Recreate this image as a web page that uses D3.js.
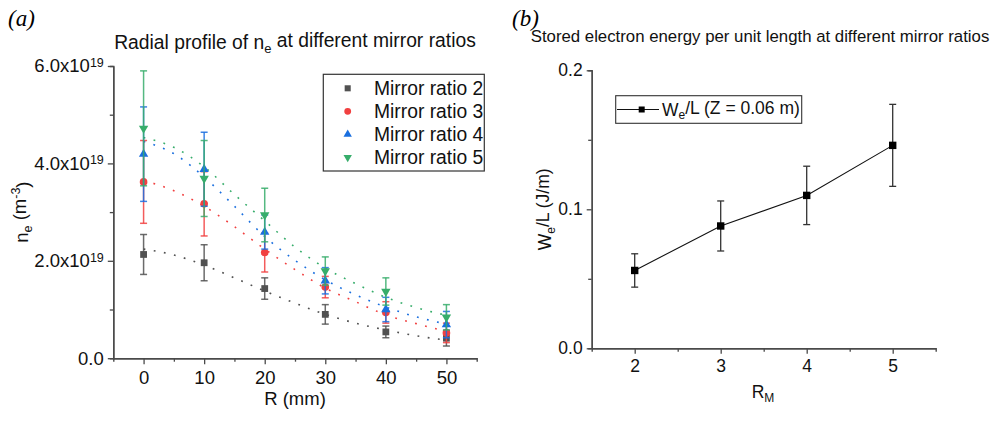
<!DOCTYPE html>
<html>
<head>
<meta charset="utf-8">
<script src="https://cdn.jsdelivr.net/npm/d3@7"></script>
<style>
  body { margin: 0; background: #fff; }
  svg { display: block; font-family: "Liberation Sans", Arial, sans-serif; }
</style>
</head>
<body>
<div id="chart"></div>
<script>
// ---- panel (a) data : n_e in units of 1e19 m^-3 ----
const radius = [0, 10, 20, 30, 40, 50];
const seriesNames = ["Mirror ratio 2", "Mirror ratio 3", "Mirror ratio 4", "Mirror ratio 5"];
const ne_mr2 = [2.13, 1.96, 1.43, 0.90, 0.54, 0.41];
const ne_mr3 = [3.62, 3.17, 2.17, 1.46, 0.94, 0.52];
const ne_mr4 = [4.19, 3.88, 2.59, 1.59, 1.00, 0.69];
const ne_mr5 = [4.72, 3.69, 2.94, 1.79, 1.37, 0.84];
const err_mr2 = [0.41, 0.37, 0.22, 0.20, 0.12, 0.16];
const err_mr3 = [0.85, 0.66, 0.40, 0.22, 0.22, 0.20];
const err_mr4 = [0.97, 0.76, 0.35, 0.27, 0.25, 0.27];
const err_mr5 = [1.18, 0.78, 0.55, 0.29, 0.28, 0.26];
// dotted fit curves
const fitRadius = [0, 5, 10, 15, 20, 25, 30, 35, 40, 45, 50];
const fit_mr2 = [2.24, 2.12, 1.91, 1.65, 1.38, 1.13, 0.90, 0.72, 0.58, 0.46, 0.37];
const fit_mr3 = [3.65, 3.44, 3.12, 2.70, 2.24, 1.82, 1.44, 1.16, 0.89, 0.71, 0.55];
const fit_mr4 = [4.45, 4.20, 3.72, 3.12, 2.50, 2.01, 1.61, 1.30, 1.05, 0.85, 0.70];
const fit_mr5 = [4.53, 4.33, 3.93, 3.36, 2.82, 2.28, 1.85, 1.53, 1.25, 1.04, 0.88];
const neTicks = [0, 2, 4, 6];

// ---- panel (b) data ----
const mirrorRatio = [2, 3, 4, 5];
const weL = [0.056, 0.088, 0.110, 0.146];
const weLErr = [0.012, 0.018, 0.021, 0.0295];
const weTicks = [0, 0.1, 0.2];

const colors = ["#515151", "#F14040", "#1A6FDF", "#37AD6B"];
const symbols = [d3.symbolSquare, d3.symbolCircle, d3.symbolTriangle, d3.symbolTriangle];
const symSizes = [46, 46, 38, 38];
const symRot = [0, 0, 0, 180];

const W = 1003, H = 421;
const axisCol = "#4a4a4a";

const svg = d3.select("#chart").append("svg")
    .attr("width", W)
    .attr("height", H);

// panel letters
svg.append("text").attr("x", 8).attr("y", 26)
    .style("font-family", "'Liberation Serif', 'DejaVu Serif', serif")
    .style("font-style", "italic").style("font-size", "23px").text("(a)");
svg.append("text").attr("x", 512).attr("y", 26)
    .style("font-family", "'Liberation Serif', 'DejaVu Serif', serif")
    .style("font-style", "italic").style("font-size", "23px").text("(b)");

function styleAxis(g) {
    g.select(".domain").attr("stroke", axisCol).attr("stroke-width", 1.4);
    g.selectAll(".tick line").attr("stroke", axisCol).attr("stroke-width", 1.3);
    g.selectAll(".tick text").attr("fill", "#111").style("font-size", "18.5px");
}

// ================= panel (a) =================
const xa = d3.scaleLinear().domain([-5, 55]).range([113.3, 476.7]);
const ya = d3.scaleLinear().domain([0, 6]).range([358.2, 66]);

// minor ticks
svg.append("g")
    .attr("transform", `translate(0,${ya(0)})`)
    .call(d3.axisBottom(xa).tickValues([5, 15, 25, 35, 45]).tickSize(3.5).tickFormat(""))
    .call(styleAxis);
svg.append("g")
    .attr("transform", `translate(${xa(-5)},0)`)
    .call(d3.axisLeft(ya).tickValues([1, 3, 5]).tickSize(3.5).tickFormat(""))
    .call(styleAxis);

const xAxisA = svg.append("g")
    .attr("transform", `translate(0,${ya(0)})`)
    .call(d3.axisBottom(xa).tickValues(radius).tickSize(6).tickPadding(4).tickSizeOuter(0))
    .call(styleAxis);
xAxisA.selectAll(".tick text").attr("dy", "0.71em").attr("y", 13);

const yAxisA = svg.append("g")
    .attr("transform", `translate(${xa(-5)},0)`)
    .call(d3.axisLeft(ya).tickValues(neTicks).tickSize(5.5).tickPadding(4).tickSizeOuter(0))
    .call(styleAxis);
yAxisA.selectAll(".tick text").each(function(d) {
    const t = d3.select(this).text("");
    if (d === 0) { t.text("0.0"); return; }
    t.append("tspan").text(d.toFixed(1) + "x10");
    t.append("tspan").attr("dy", "-0.45em").style("font-size", "12.5px").text("19");
});

svg.append("text")
    .attr("x", (xa(-5) + xa(55)) / 2).attr("y", 405)
    .attr("text-anchor", "middle").style("font-size", "18.5px").attr("fill", "#111")
    .text("R (mm)");

const ylabA = svg.append("text")
    .attr("transform", `translate(28,${(ya(0) + ya(6)) / 2}) rotate(-90)`)
    .attr("text-anchor", "middle").style("font-size", "18.5px").attr("fill", "#111");
ylabA.append("tspan").text("n");
ylabA.append("tspan").attr("dy", "0.3em").style("font-size", "12.5px").text("e");
ylabA.append("tspan").attr("dy", "-0.3em").text(" (m");
ylabA.append("tspan").attr("dy", "-0.5em").style("font-size", "12.5px").text("-3");
ylabA.append("tspan").attr("dy", "0.5em").text(")");

const titleA = svg.append("text")
    .attr("x", 295).attr("y", 49)
    .attr("text-anchor", "middle").style("font-size", "19.3px").attr("fill", "#111");
titleA.append("tspan").text("Radial profile of n");
titleA.append("tspan").attr("dy", "0.3em").style("font-size", "13px").text("e");
titleA.append("tspan").attr("dy", "-0.3em").text(" at different mirror ratios");

const neSeries = [ne_mr2, ne_mr3, ne_mr4, ne_mr5];
const errSeries = [err_mr2, err_mr3, err_mr4, err_mr5];
const fitSeries = [fit_mr2, fit_mr3, fit_mr4, fit_mr5];

const fitLine = d3.line()
    .x((d, i) => xa(fitRadius[i]))
    .y(d => ya(d))
    .curve(d3.curveMonotoneX);

fitSeries.forEach((fs, k) => {
    svg.append("path")
        .datum(fs)
        .attr("d", fitLine)
        .attr("fill", "none")
        .attr("stroke", colors[k])
        .attr("stroke-width", 1.6)
        .attr("stroke-dasharray", "1.8,8.5");
});

neSeries.forEach((vals, k) => {
    const pts = vals.map((v, i) => ({ r: radius[i], v: v, e: errSeries[k][i] }));
    const g = svg.append("g").attr("stroke", colors[k]).attr("stroke-width", 1.5).attr("stroke-opacity", 0.85);
    g.selectAll("line.bar").data(pts).join("line")
        .attr("x1", d => xa(d.r)).attr("x2", d => xa(d.r))
        .attr("y1", d => ya(d.v + d.e)).attr("y2", d => ya(d.v - d.e));
    g.selectAll("line.capT").data(pts).join("line")
        .attr("x1", d => xa(d.r) - 3.5).attr("x2", d => xa(d.r) + 3.5)
        .attr("y1", d => ya(d.v + d.e)).attr("y2", d => ya(d.v + d.e));
    g.selectAll("line.capB").data(pts).join("line")
        .attr("x1", d => xa(d.r) - 3.5).attr("x2", d => xa(d.r) + 3.5)
        .attr("y1", d => ya(d.v - d.e)).attr("y2", d => ya(d.v - d.e));
    svg.append("g").selectAll("path").data(pts).join("path")
        .attr("d", d3.symbol(symbols[k], symSizes[k]))
        .attr("transform", d => `translate(${xa(d.r)},${ya(d.v)}) rotate(${symRot[k]})`)
        .attr("fill", colors[k]);
});

// legend (a)
const legA = svg.append("g");
legA.append("rect")
    .attr("x", 323.3).attr("y", 74.3).attr("width", 161).attr("height", 96.7)
    .attr("fill", "#fff").attr("stroke", "#333").attr("stroke-width", 1.2);
seriesNames.forEach((name, k) => {
    const cy = 88.3 + k * 23;
    legA.append("path")
        .attr("d", d3.symbol(symbols[k], symSizes[k] * 0.8))
        .attr("transform", `translate(347.7,${cy}) rotate(${symRot[k]})`)
        .attr("fill", colors[k]);
    legA.append("text")
        .attr("x", 374).attr("y", cy).attr("dy", "0.35em")
        .style("font-size", "19.3px").attr("fill", "#111")
        .text(name);
});

// ================= panel (b) =================
const xb = d3.scaleLinear().domain([1.5, 5.5]).range([591.7, 935.7]);
const yb = d3.scaleLinear().domain([0, 0.2]).range([348.3, 70.3]);

svg.append("g")
    .attr("transform", `translate(0,${yb(0)})`)
    .call(d3.axisBottom(xb).tickValues([2.5, 3.5, 4.5]).tickSize(3.5).tickFormat(""))
    .call(styleAxis);
svg.append("g")
    .attr("transform", `translate(${xb(1.5)},0)`)
    .call(d3.axisLeft(yb).tickValues([0.05, 0.15]).tickSize(3.5).tickFormat(""))
    .call(styleAxis);

const xAxisB = svg.append("g")
    .attr("transform", `translate(0,${yb(0)})`)
    .call(d3.axisBottom(xb).tickValues(mirrorRatio).tickSize(5.5).tickPadding(4).tickSizeOuter(0).tickFormat(d3.format("d")))
    .call(styleAxis);
xAxisB.selectAll(".tick text").style("font-size", "17.5px").attr("y", 11);

const yAxisB = svg.append("g")
    .attr("transform", `translate(${xb(1.5)},0)`)
    .call(d3.axisLeft(yb).tickValues(weTicks).tickSize(5).tickPadding(4).tickSizeOuter(0).tickFormat(d3.format(".1f")))
    .call(styleAxis);
yAxisB.selectAll(".tick text").style("font-size", "17.5px");

const xlabB = svg.append("text")
    .attr("x", 763).attr("y", 398)
    .attr("text-anchor", "middle").style("font-size", "17.5px").attr("fill", "#111");
xlabB.append("tspan").text("R");
xlabB.append("tspan").attr("dy", "0.3em").style("font-size", "12px").text("M");

const ylabB = svg.append("text")
    .attr("transform", `translate(551,${(yb(0) + yb(0.2)) / 2}) rotate(-90)`)
    .attr("text-anchor", "middle").style("font-size", "17.5px").attr("fill", "#111");
ylabB.append("tspan").text("W");
ylabB.append("tspan").attr("dy", "0.3em").style("font-size", "12px").text("e");
ylabB.append("tspan").attr("dy", "-0.3em").text("/L (J/m)");

svg.append("text")
    .attr("x", 760).attr("y", 42)
    .attr("text-anchor", "middle").style("font-size", "16.8px").attr("fill", "#111")
    .text("Stored electron energy per unit length at different mirror ratios");

const ptsB = mirrorRatio.map((m, i) => ({ m: m, v: weL[i], e: weLErr[i] }));

svg.append("path")
    .datum(ptsB)
    .attr("d", d3.line().x(d => xb(d.m)).y(d => yb(d.v)))
    .attr("fill", "none").attr("stroke", "#111").attr("stroke-width", 1.1);

const gb = svg.append("g").attr("stroke", "#333").attr("stroke-width", 1.3);
gb.selectAll("line.bar").data(ptsB).join("line")
    .attr("x1", d => xb(d.m)).attr("x2", d => xb(d.m))
    .attr("y1", d => yb(d.v + d.e)).attr("y2", d => yb(d.v - d.e));
gb.selectAll("line.capT").data(ptsB).join("line")
    .attr("x1", d => xb(d.m) - 3.5).attr("x2", d => xb(d.m) + 3.5)
    .attr("y1", d => yb(d.v + d.e)).attr("y2", d => yb(d.v + d.e));
gb.selectAll("line.capB").data(ptsB).join("line")
    .attr("x1", d => xb(d.m) - 3.5).attr("x2", d => xb(d.m) + 3.5)
    .attr("y1", d => yb(d.v - d.e)).attr("y2", d => yb(d.v - d.e));

svg.append("g").selectAll("rect").data(ptsB).join("rect")
    .attr("x", d => xb(d.m) - 3.7).attr("y", d => yb(d.v) - 3.7)
    .attr("width", 7.4).attr("height", 7.4)
    .attr("fill", "#000");

// legend (b)
const legB = svg.append("g");
legB.append("rect")
    .attr("x", 615.7).attr("y", 95.7).attr("width", 186).attr("height", 27.6)
    .attr("fill", "#fff").attr("stroke", "#333").attr("stroke-width", 1.1);
legB.append("line")
    .attr("x1", 617).attr("x2", 659).attr("y1", 109.5).attr("y2", 109.5)
    .attr("stroke", "#111").attr("stroke-width", 1.1);
legB.append("rect")
    .attr("x", 638.7).attr("y", 106.5).attr("width", 6).attr("height", 6).attr("fill", "#000");
const legBText = legB.append("text")
    .attr("x", 662).attr("y", 109.5).attr("dy", "0.35em")
    .style("font-size", "17.5px").attr("fill", "#111");
legBText.append("tspan").text("W");
legBText.append("tspan").attr("dy", "0.3em").style("font-size", "12px").text("e");
legBText.append("tspan").attr("dy", "-0.3em").text("/L (Z = 0.06 m)");
</script>
</body>
</html>
